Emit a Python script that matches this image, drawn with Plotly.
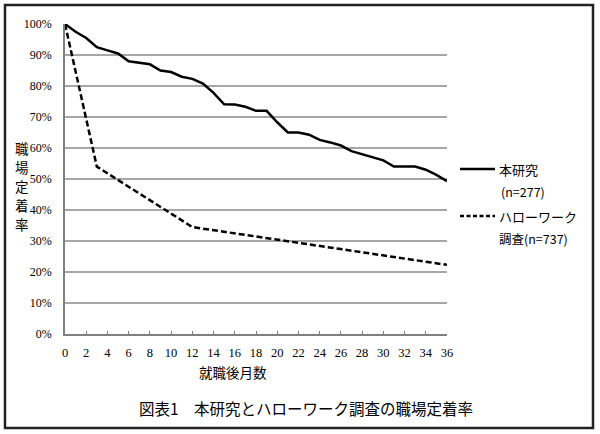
import plotly.graph_objects as go

# Data
months_study = list(range(0, 37))
rate_study = [100, 97.5, 95.5, 92.5, 91.5, 90.5, 88, 87.5, 87, 85, 84.5, 83, 82.3, 80.8, 77.8,
              74.1, 74, 73.3, 72, 72, 68.3, 65, 65, 64.3, 62.6, 61.8, 60.8, 59, 58, 57, 56,
              54, 54, 54, 53, 51.3, 49.3]
months_hw = [0, 3, 12, 36]
rate_hw = [100, 54, 34.5, 22.3]

legend_study = ["本研究", "(n=277)"]
legend_hw = ["ハローワーク", "調査(n=737)"]
x_title = "就職後月数"
y_title_chars = ["職", "場", "定", "着", "率"]
caption = "図表1　本研究とハローワーク調査の職場定着率"

x_ticks = list(range(0, 37, 2))
y_ticks = [v / 100 for v in range(0, 101, 10)]

W, H = 600, 434
L, R, T, B = 65, 153, 24, 100
pw, ph = W - L - R, H - T - B

def px(xp):
    return (xp - L) / pw

def py(yp):
    return (H - B - yp) / ph

serif = "Liberation Serif"
gothic = "Noto Sans CJK JP"

fig = go.Figure()
fig.add_trace(go.Scatter(x=months_study, y=[v / 100 for v in rate_study], mode="lines",
                         name="".join(legend_study), showlegend=False,
                         line=dict(color="black", width=2.5)))
fig.add_trace(go.Scatter(x=months_hw, y=[v / 100 for v in rate_hw], mode="lines",
                         name="".join(legend_hw), showlegend=False,
                         line=dict(color="black", width=2.5, dash="6px,3px")))

def txt(text, x, y, size, family=gothic, xanchor="center"):
    return dict(text=text, x=px(x), y=py(y), xref="paper", yref="paper",
                xanchor=xanchor, yanchor="middle", showarrow=False,
                font=dict(family=family, size=size, color="black"))

annotations = [txt(ch, 22, 148 + i * 19, 13.5) for i, ch in enumerate(y_title_chars)]
annotations += [
    txt(x_title, 233, 372, 13.5),
    txt(caption, 306, 408, 15.5),
    txt(legend_study[0], 497, 169, 13, xanchor="left"),
    txt(legend_study[1], 499, 191, 12.5, xanchor="left"),
    txt(legend_hw[0], 497, 216, 13, xanchor="left"),
    txt(legend_hw[1], 497, 238, 12.5, xanchor="left"),
]

shapes = [
    dict(type="rect", xref="paper", yref="paper",
         x0=px(5), x1=px(593), y0=py(428), y1=py(5),
         line=dict(color="#222222", width=2.5), fillcolor="rgba(0,0,0,0)"),
    dict(type="line", xref="paper", yref="paper", x0=px(460), x1=px(495),
         y0=py(169), y1=py(169), line=dict(color="black", width=2.5)),
    dict(type="line", xref="paper", yref="paper", x0=px(460), x1=px(495),
         y0=py(216), y1=py(216), line=dict(color="black", width=2.5, dash="4px,2.5px")),
]

fig.update_layout(
    width=W, height=H,
    margin=dict(l=L, r=R, t=T, b=B),
    paper_bgcolor="white", plot_bgcolor="white",
    showlegend=False,
    xaxis=dict(range=[0, 36], tickvals=x_ticks, ticks="inside", ticklen=3,
               tickcolor="#808080", showline=True, linecolor="#808080", linewidth=1.5,
               showgrid=False, zeroline=False,
               tickfont=dict(family=serif, size=12.5, color="black"), ticklabelstandoff=6),
    yaxis=dict(range=[0, 1.0], tickvals=y_ticks, tickformat=".0%",
               showline=True, linecolor="#808080", linewidth=1.5,
               showgrid=True, gridcolor="#A6A6A6", gridwidth=1.5, zeroline=False,
               tickfont=dict(family=serif, size=12, color="black"), ticklabelstandoff=9),
    annotations=annotations,
    shapes=shapes,
)

fig.write_html("out.html", config={"displayModeBar": False},
               post_script="document.body.style.margin='0';document.body.style.padding='0';"
                           "document.body.style.overflow='hidden';")
